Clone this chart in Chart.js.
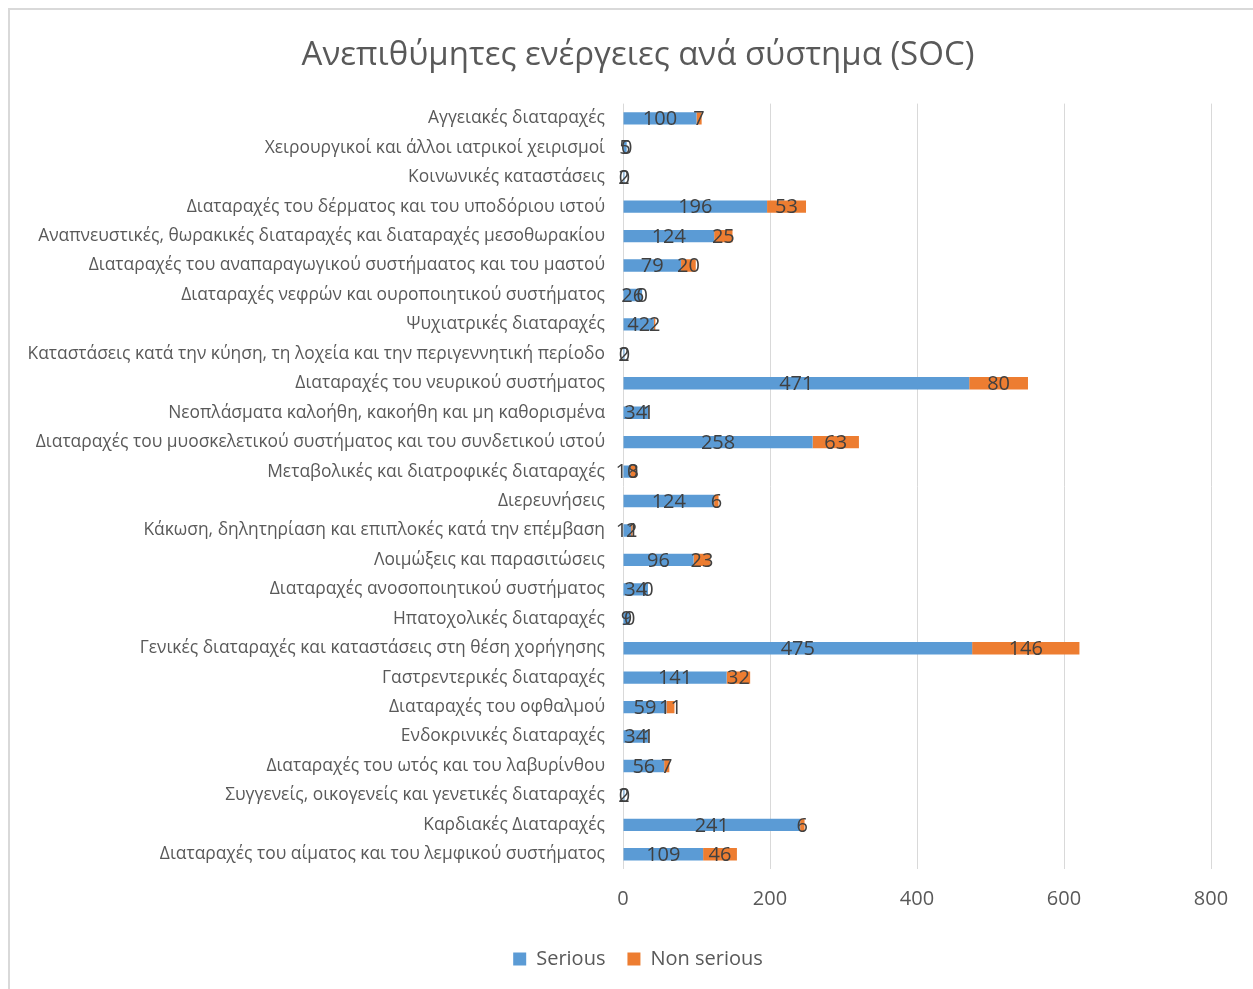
<!DOCTYPE html>
<html>
<head>
<meta charset="utf-8">
<script src="https://cdn.jsdelivr.net/npm/chart.js@4/dist/chart.umd.min.js"></script>
<style>
    body { margin: 0; background: #fff; }
    #frame { position: absolute; left: 8px; top: 8px; width: 1300px; height: 1100px; border-left: 2px solid #d9d9d9; border-top: 2px solid #d9d9d9; }
    #chart { position: absolute; left: 0; top: 0; }
</style>
</head>
<body>
<div id="frame"></div>
<canvas id="chart" width="1253" height="989"></canvas>
<script>
const FONT = "'Open Sans', 'Noto Sans', sans-serif";

const categories = [
    "Αγγειακές διαταραχές",
    "Χειρουργικοί και άλλοι ιατρικοί χειρισμοί",
    "Κοινωνικές καταστάσεις",
    "Διαταραχές του δέρματος και του υποδόριου ιστού",
    "Αναπνευστικές, θωρακικές διαταραχές και διαταραχές μεσοθωρακίου",
    "Διαταραχές του αναπαραγωγικού συστήμαατος και του μαστού",
    "Διαταραχές νεφρών και ουροποιητικού συστήματος",
    "Ψυχιατρικές διαταραχές",
    "Καταστάσεις κατά την κύηση, τη λοχεία και την περιγεννητική περίοδο",
    "Διαταραχές του νευρικού συστήματος",
    "Νεοπλάσματα καλοήθη, κακοήθη και μη καθορισμένα",
    "Διαταραχές του μυοσκελετικού συστήματος και του συνδετικού ιστού",
    "Μεταβολικές και διατροφικές διαταραχές",
    "Διερευνήσεις",
    "Κάκωση, δηλητηρίαση και επιπλοκές κατά την επέμβαση",
    "Λοιμώξεις και παρασιτώσεις",
    "Διαταραχές ανοσοποιητικού συστήματος",
    "Ηπατοχολικές διαταραχές",
    "Γενικές διαταραχές και καταστάσεις στη θέση χορήγησης",
    "Γαστρεντερικές διαταραχές",
    "Διαταραχές του οφθαλμού",
    "Ενδοκρινικές διαταραχές",
    "Διαταραχές του ωτός και του λαβυρίνθου",
    "Συγγενείς, οικογενείς και γενετικές διαταραχές",
    "Καρδιακές Διαταραχές",
    "Διαταραχές του αίματος και του λεμφικού συστήματος",
];

const serious = [100, 5, 2, 196, 124, 79, 26, 42, 2, 471, 34, 258, 10, 124, 11, 96, 34, 9, 475, 141, 59, 34, 56, 2, 241, 109];
const nonSerious = [7, 0, 0, 53, 25, 20, 0, 2, 0, 80, 1, 63, 8, 6, 2, 23, 0, 0, 146, 32, 11, 1, 7, 0, 6, 46];

// draws each value in the middle of its segment, like the Excel "center" labels
const centerLabels = {
    id: "centerLabels",
    afterDatasetsDraw(chart) {
        const ctx = chart.ctx;
        ctx.save();
        ctx.font = "20px " + FONT;
        ctx.fillStyle = "#404040";
        ctx.textAlign = "center";
        ctx.textBaseline = "middle";
        chart.data.datasets.forEach((ds, i) => {
            const meta = chart.getDatasetMeta(i);
            meta.data.forEach((bar, j) => {
                const x = (bar.x + bar.base) / 2;
                ctx.fillText(String(ds.data[j]), x, bar.y + 1);
            });
        });
        ctx.restore();
    },
};

// title and legend are centred a bit to the right, as in the original
const shiftCenter = {
    id: "shiftCenter",
    afterLayout(chart) {
        [chart.titleBlock, chart.legend].forEach((box) => {
            box.left += 65;
            box.width = box.right - box.left;
        });
    },
};

new Chart(document.getElementById("chart"), {
    type: "bar",
    data: {
        labels: categories,
        datasets: [
            {
                label: "Serious",
                data: serious,
                backgroundColor: "#5B9BD5",
                barPercentage: 0.42,
                categoryPercentage: 1,
            },
            {
                label: "Non serious",
                data: nonSerious,
                backgroundColor: "#ED7D31",
                barPercentage: 0.42,
                categoryPercentage: 1,
            },
        ],
    },
    options: {
        indexAxis: "y",
        responsive: false,
        animation: false,
        layout: { padding: { left: 0, right: 42, top: 0, bottom: 10 } },
        scales: {
            x: {
                stacked: true,
                min: 0,
                max: 800,
                ticks: { stepSize: 200, color: "#595959", font: { family: FONT, size: 20 }, padding: 18 },
                grid: { color: "#d9d9d9", drawTicks: false },
                border: { display: false },
                afterFit(scale) { scale.height = 58; },
            },
            y: {
                stacked: true,
                ticks: { color: "#595959", font: { family: FONT, size: 17.4 }, padding: 18, autoSkip: false },
                grid: { display: false, drawTicks: false },
                border: { display: false },
                afterFit(scale) { scale.width = 623; },
            },
        },
        plugins: {
            title: {
                display: true,
                text: "Ανεπιθύμητες ενέργειες ανά σύστημα (SOC)",
                color: "#595959",
                font: { family: FONT, size: 33, weight: "normal" },
                padding: { top: 36, bottom: 28 },
            },
            legend: {
                position: "bottom",
                labels: {
                    color: "#595959",
                    font: { family: FONT, size: 20 },
                    boxWidth: 13,
                    boxHeight: 13,
                    padding: 22,
                },
            },
            tooltip: { enabled: false },
        },
    },
    plugins: [centerLabels, shiftCenter],
});
</script>
</body>
</html>
